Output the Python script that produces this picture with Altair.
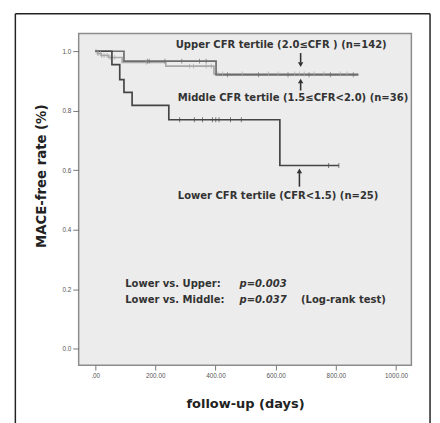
import altair as alt
import pandas as pd

# ---- data ----
lower_days = [0, 56, 82, 96, 123, 245, 614, 810]
lower_surv = [1.0, 0.955, 0.905, 0.862, 0.818, 0.77, 0.616, 0.616]
lower_censor = [281, 330, 357, 390, 401, 412, 450, 486, 776, 810]

middle_days = [0, 96, 402, 875]
middle_surv = [1.0, 0.967, 0.921, 0.921]
middle_censor = [174, 180, 232, 288, 347, 369, 440, 543, 641, 711, 782, 858]

upper_days = [0, 8, 20, 45, 90, 235, 395, 875]
upper_surv = [1.0, 0.993, 0.986, 0.979, 0.963, 0.95, 0.924, 0.924]
upper_censor = [3, 8, 12, 18, 22, 30, 40, 50, 65, 170, 314, 327, 369, 386,
                408, 424, 489, 576, 608, 663, 679, 695, 728, 760, 815, 837]

group_names = ["Upper", "Middle", "Lower"]
group_colors = ["#a9a9a9", "#6c6c6c", "#444444"]

x_ticks = [0, 200, 400, 600, 800, 1000]
y_ticks = [0.0, 0.2, 0.4, 0.6, 0.8, 1.0]

label_text = ["Upper CFR tertile (2.0≤CFR ) (n=142)",
              "Middle CFR tertile (1.5≤CFR<2.0) (n=36)",
              "Lower CFR tertile (CFR<1.5) (n=25)",
              "Lower vs. Upper:", "Lower vs. Middle:", "(Log-rank test)"]
label_x = [268, 275, 275, 100, 100, 684]
label_y = [1.021, 0.842, 0.512, 0.219, 0.164, 0.164]

p_text = ["p=0.003", "p=0.037"]
p_x = [480, 480]
p_y = [0.219, 0.164]

# arrows: shaft (x, y, y2) and head (x, y, shape)
arrow_x = [683, 683, 679]
arrow_y1 = [0.994, 0.868, 0.545]
arrow_y2 = [0.962, 0.895, 0.592]
head_y = [0.955, 0.900, 0.598]
head_shape = ["triangle-down", "triangle-up", "triangle-up"]


def step_value(days, surv, t):
    v = surv[0]
    for d, s in zip(days, surv):
        if d <= t:
            v = s
    return v


curves = []
censors = []
for name, days, surv, cens in [("Upper", upper_days, upper_surv, upper_censor),
                               ("Middle", middle_days, middle_surv, middle_censor),
                               ("Lower", lower_days, lower_surv, lower_censor)]:
    for d, s in zip(days, surv):
        curves.append({"group": name, "day": d, "surv": s})
    for c in cens:
        censors.append({"group": name, "day": c, "surv": step_value(days, surv, c)})

curve_df = pd.DataFrame(curves)
censor_df = pd.DataFrame(censors)
labels_df = pd.DataFrame({"text": label_text, "x": label_x, "y": label_y})
p_df = pd.DataFrame({"text": p_text, "x": p_x, "y": p_y})
arrow_df = pd.DataFrame({"x": arrow_x, "y1": arrow_y1, "y2": arrow_y2})
head_df = pd.DataFrame({"x": arrow_x, "y": head_y, "shape": head_shape})

FONT = "DejaVu Sans"
xscale = alt.Scale(domain=[-54.5, 1051], nice=False, zero=False)
yscale = alt.Scale(domain=[-0.055, 1.06], nice=False, zero=False)
color = alt.Color("group:N", scale=alt.Scale(domain=group_names, range=group_colors), legend=None)

x_axis = alt.Axis(values=x_ticks, title="follow-up (days)",
                  labelExpr="datum.value == 0 ? '.00' : format(datum.value, '.2f')",
                  labelFontSize=6.5, labelColor="#555", tickColor="#777", tickSize=5,
                  labelPadding=3, domain=False, grid=False,
                  titleFont=FONT, titleFontSize=13.2, titleFontWeight="bold",
                  titleColor="#222", titleBaseline="middle", titleY=39)
y_axis = alt.Axis(values=y_ticks, format=".1f", title="MACE-free rate (%)",
                  labelFontSize=6.5, labelColor="#555", tickColor="#777", tickSize=6,
                  labelPadding=2, domain=False, grid=False,
                  titleFont=FONT, titleFontSize=13.5, titleFontWeight="bold",
                  titleColor="#222", titleAngle=-90, titleAlign="center",
                  titleBaseline="middle", titleX=-38, titleY=145)

lines = alt.Chart(curve_df).mark_line(interpolate="step-after", strokeWidth=1.7).encode(
    x=alt.X("day:Q", scale=xscale, axis=x_axis),
    y=alt.Y("surv:Q", scale=yscale, axis=y_axis),
    color=color,
    detail="group:N",
    order=alt.Order("day:Q"),
)

ticks = alt.Chart(censor_df).mark_tick(orient="vertical", size=5, thickness=1).encode(
    x=alt.X("day:Q", scale=xscale),
    y=alt.Y("surv:Q", scale=yscale),
    color=color,
)

labels = alt.Chart(labels_df).mark_text(
    align="left", baseline="middle", font=FONT, fontSize=10.2, fontWeight="bold", color="#333"
).encode(x=alt.X("x:Q", scale=xscale), y=alt.Y("y:Q", scale=yscale), text="text:N")

plabels = alt.Chart(p_df).mark_text(
    align="left", baseline="middle", font=FONT, fontSize=10.2, fontWeight="bold",
    fontStyle="italic", color="#333"
).encode(x=alt.X("x:Q", scale=xscale), y=alt.Y("y:Q", scale=yscale), text="text:N")

shafts = alt.Chart(arrow_df).mark_rule(color="#333", strokeWidth=1.6).encode(
    x=alt.X("x:Q", scale=xscale), y=alt.Y("y1:Q", scale=yscale), y2="y2:Q"
)
heads = alt.Chart(head_df).mark_point(filled=True, color="#333", size=30, opacity=1).encode(
    x=alt.X("x:Q", scale=xscale), y=alt.Y("y:Q", scale=yscale),
    shape=alt.Shape("shape:N", scale=None)
)

frame_df = pd.DataFrame({"k": [0]})
frame_left = alt.Chart(frame_df).mark_rule(color="#222", strokeWidth=1.5).encode(
    x=alt.value(-64.5), y=alt.value(-20), y2=alt.value(420))
frame_top = alt.Chart(frame_df).mark_rule(color="#222", strokeWidth=1.5).encode(
    x=alt.value(-64.5), x2=alt.value(358), y=alt.value(-20))
frame_right = alt.Chart(frame_df).mark_rule(color="#222", strokeWidth=1.5).encode(
    x=alt.value(358), y=alt.value(-20), y2=alt.value(420))

chart = alt.layer(
    lines, ticks, shafts, heads, labels, plabels, frame_left, frame_top, frame_right
).properties(
    width=339, height=338,
    autosize=alt.AutoSizeParams(type="none"),
    padding={"left": 72, "top": 22, "right": 21, "bottom": 55},
    background="white",
).configure_view(
    fill="#ececec", stroke="#8c8c8c", strokeWidth=1.5
)

chart.save("out.html", embed_options={"renderer": "svg", "actions": False})
